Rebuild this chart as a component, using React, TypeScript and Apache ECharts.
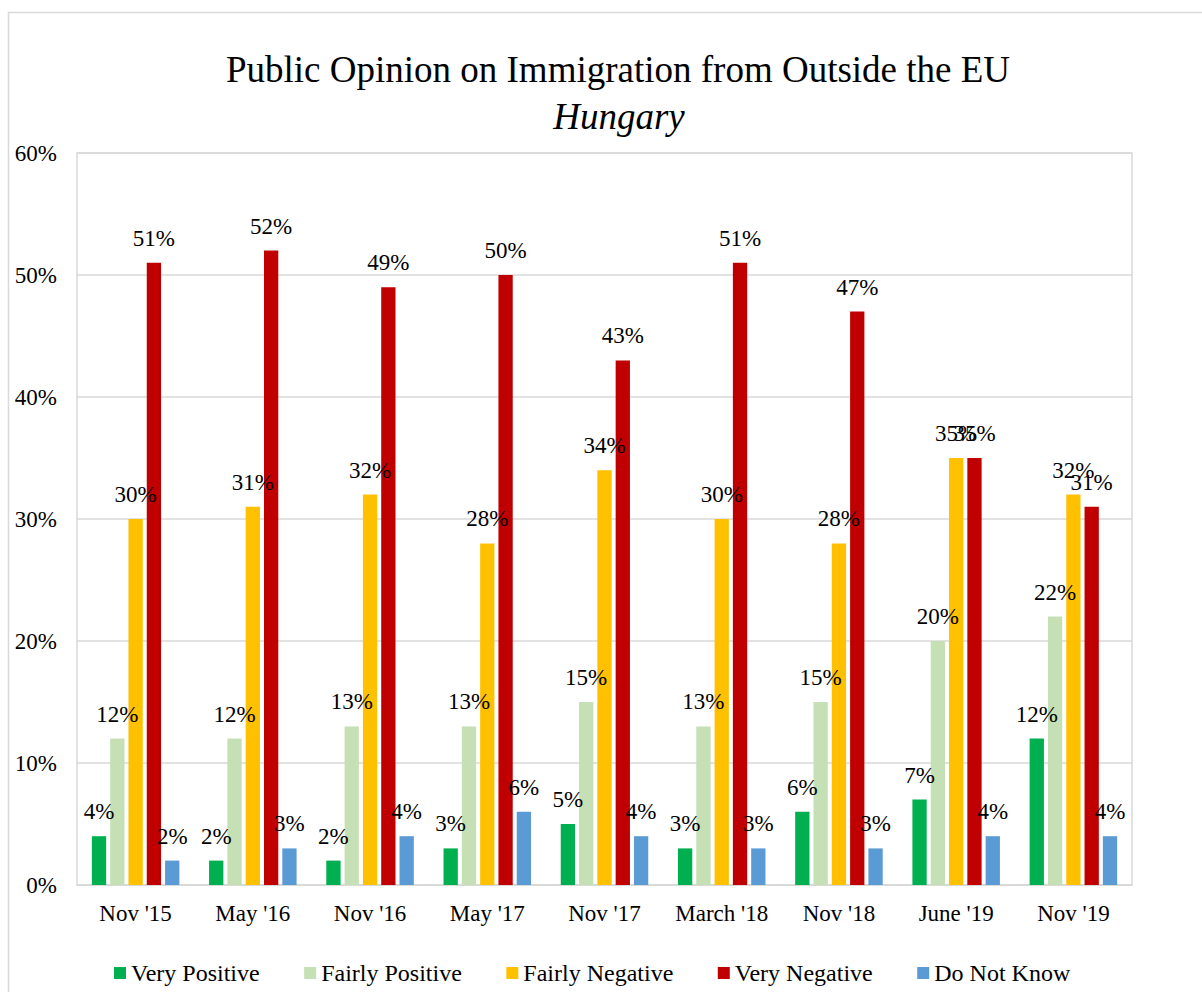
import React, { useEffect, useRef } from "react";
import * as echarts from "echarts";

const categories = ["Nov '15", "May '16", "Nov '16", "May '17", "Nov '17", "March '18", "Nov '18", "June '19", "Nov '19"];
const veryPositive = [4, 2, 2, 3, 5, 3, 6, 7, 12];
const fairlyPositive = [12, 12, 13, 13, 15, 13, 15, 20, 22];
const fairlyNegative = [30, 31, 32, 28, 34, 30, 28, 35, 32];
const veryNegative = [51, 52, 49, 50, 43, 51, 47, 35, 31];
const doNotKnow = [2, 3, 4, 6, 4, 3, 3, 4, 4];

const seriesNames = ["Very Positive", "Fairly Positive", "Fairly Negative", "Very Negative", "Do Not Know"];
const seriesColors = ["#00B050", "#C5E0B4", "#FFC000", "#C00000", "#5B9BD5"];
const seriesData = [veryPositive, fairlyPositive, fairlyNegative, veryNegative, doNotKnow];

const titleText = "Public Opinion on Immigration from Outside the EU";
const subtitleText = "Hungary";

const FONT = "Liberation Serif, Times New Roman, serif";

export default function App() {
  const ref = useRef<HTMLDivElement>(null);
  useEffect(() => {
    if (!ref.current) return;
    const chart = echarts.init(ref.current, null, { renderer: "svg" });
    chart.setOption({
      animation: false,
      backgroundColor: "#ffffff",
      textStyle: { fontFamily: FONT, color: "#000" },
      graphic: [
        {
          type: "rect",
          z: -10,
          shape: { x: 8.5, y: 12.5, width: 1400, height: 1200 },
          style: { fill: "none", stroke: "#d9d9d9", lineWidth: 1.5 },
        },
        {
          type: "text",
          x: 618,
          y: 69,
          style: {
            text: titleText,
            fontFamily: FONT,
            fontSize: 37,
            fill: "#000",
            textAlign: "center",
            textVerticalAlign: "middle",
          },
        },
        {
          type: "text",
          x: 619,
          y: 116,
          style: {
            text: subtitleText,
            fontFamily: FONT,
            fontSize: 37,
            fontStyle: "italic",
            fill: "#000",
            textAlign: "center",
            textVerticalAlign: "middle",
          },
        },
      ],
      legend: {
        left: 109,
        top: 956,
        icon: "rect",
        itemWidth: 12,
        itemHeight: 12,
        itemGap: 44.5,
        textStyle: { fontFamily: FONT, fontSize: 24, color: "#000" },
        data: seriesNames,
      },
      grid: {
        left: 77,
        right: 70,
        top: 153,
        bottom: 107,
        containLabel: false,
        outerBoundsMode: "none",
        show: true,
        borderColor: "#d9d9d9",
        borderWidth: 1.5,
      },
      xAxis: {
        type: "category",
        data: categories,
        axisLine: { show: true, lineStyle: { color: "#d9d9d9", width: 1.5 } },
        axisTick: { show: false },
        axisLabel: { fontFamily: FONT, fontSize: 23, color: "#000", margin: 17, interval: 0 },
      },
      yAxis: {
        type: "value",
        min: 0,
        max: 60,
        interval: 10,
        axisLine: { show: false },
        axisTick: { show: false },
        splitLine: { show: true, lineStyle: { color: "#d9d9d9", width: 1.5 } },
        axisLabel: { fontFamily: FONT, fontSize: 23, color: "#000", margin: 20, formatter: "{value}%" },
      },
      series: seriesNames.map((name, i) => ({
        name,
        type: "bar",
        data: seriesData[i],
        barWidth: 14.3,
        barGap: "28%",
        itemStyle: { color: seriesColors[i] },
        label: {
          show: true,
          position: "top",
          distance: 13,
          formatter: "{c}%",
          fontFamily: FONT,
          fontSize: 23,
          color: "#000",
        },
      })),
    });
    return () => chart.dispose();
  }, []);
  return <div ref={ref} style={{ position: "fixed", left: 0, top: 0, width: 1202, height: 992, background: "#fff" }} />;
}
